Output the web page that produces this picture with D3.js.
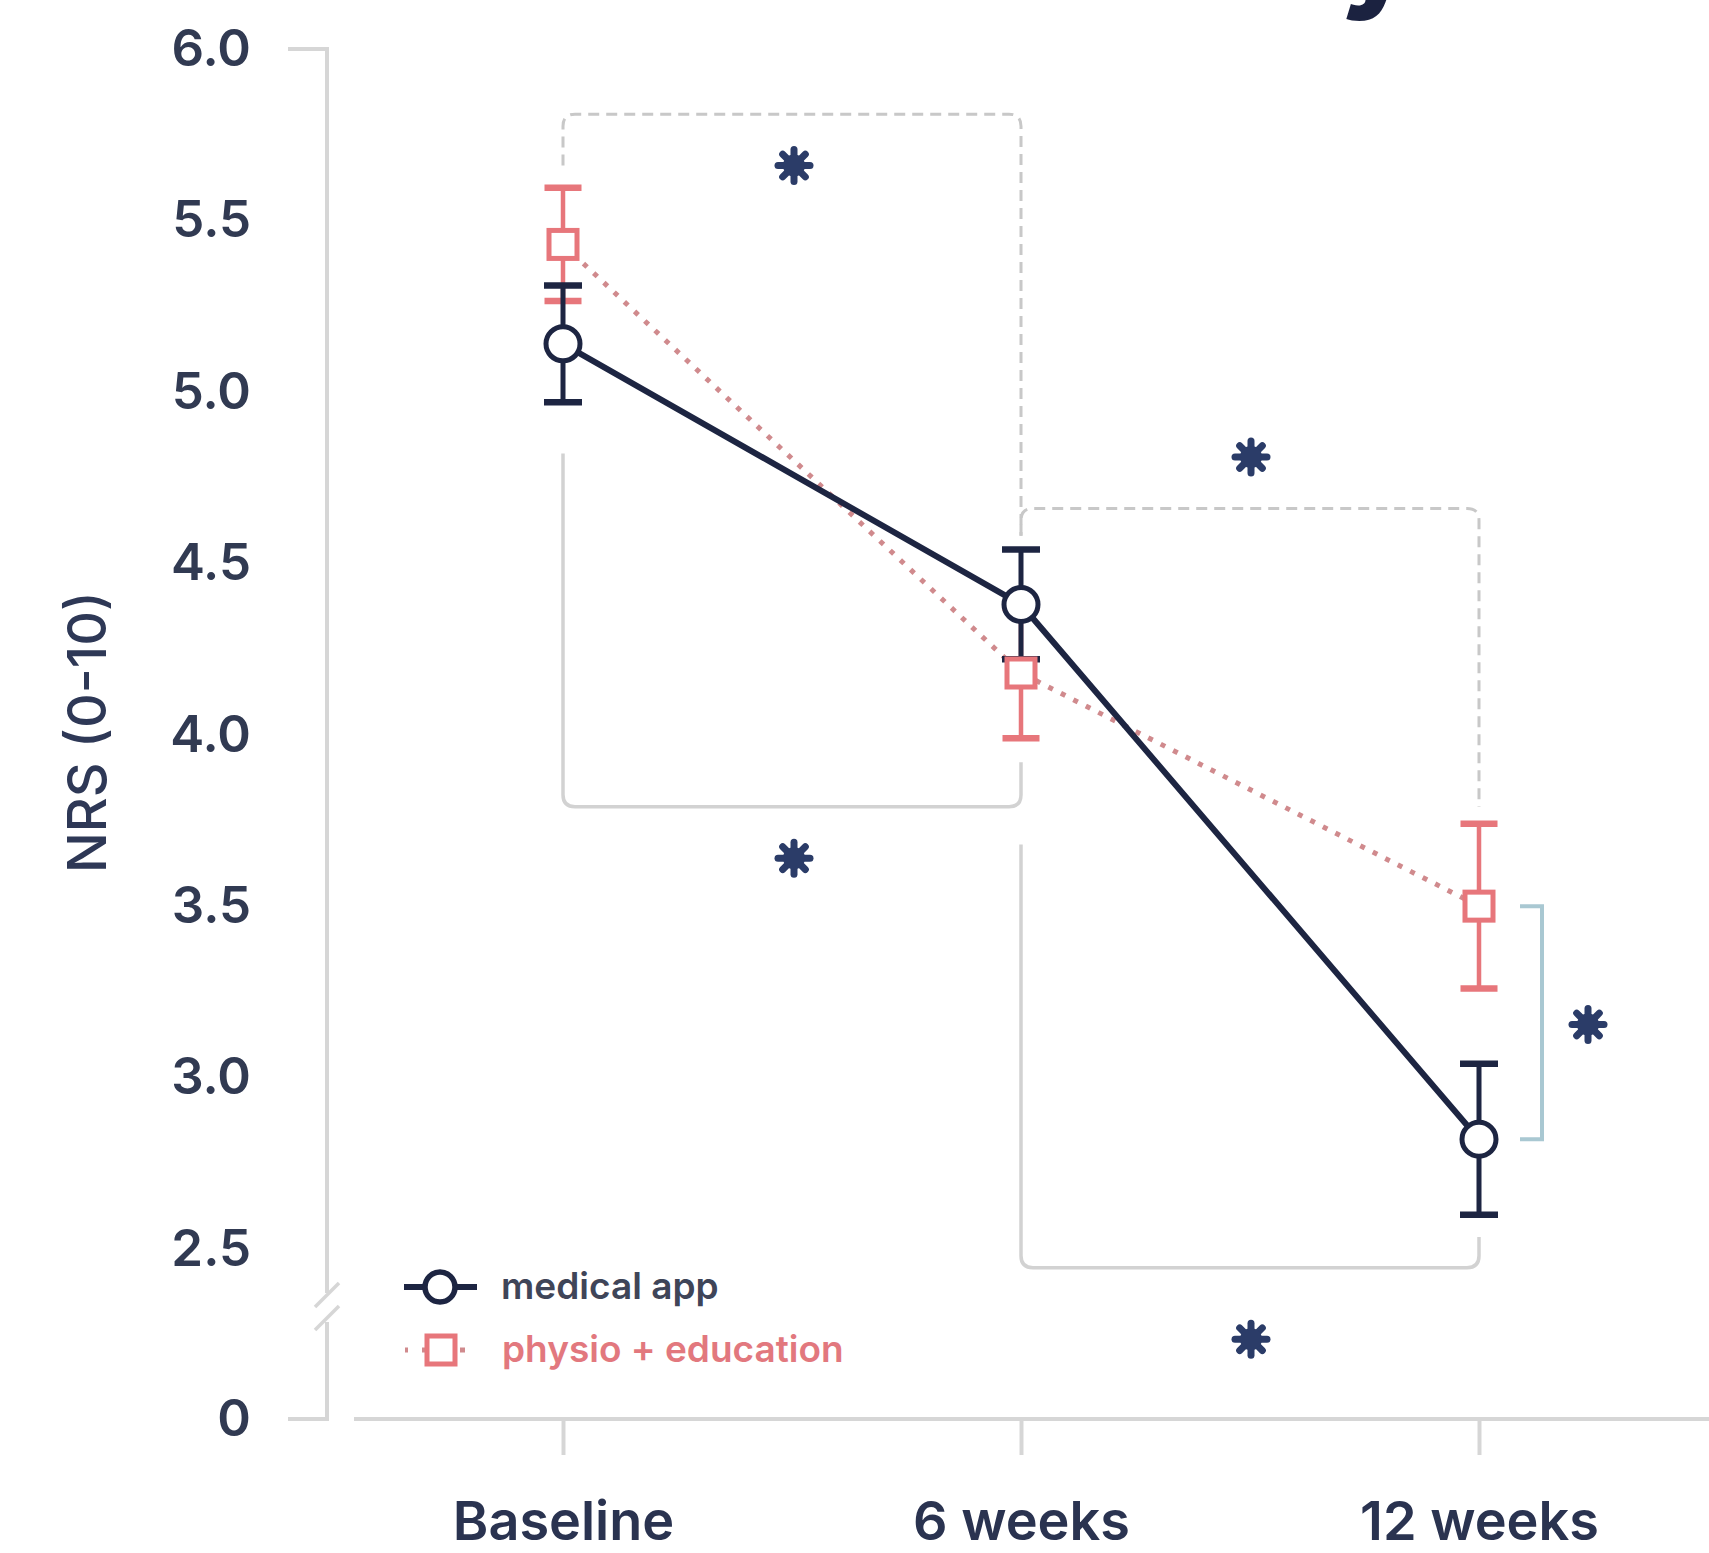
<!DOCTYPE html>
<html>
<head>
<meta charset="utf-8">
<script src="https://cdn.jsdelivr.net/npm/d3@7"></script>
<style>
  html, body { margin: 0; padding: 0; background: #ffffff; }
  svg { display: block; font-family: Inter, "Liberation Sans", Arial, sans-serif; }
</style>
</head>
<body>
<svg id="chart" width="1709" height="1553"></svg>
<script>
// ---- data ----------------------------------------------------------------
const categories = ["Baseline", "6 weeks", "12 weeks"];
const seriesNames = ["medical app", "physio + education"];

// mean NRS pain score and its error (± half-width) per time point
const appMean    = [5.14, 4.38, 2.82];
const appErr     = [0.17, 0.16, 0.22];
const physioMean = [5.43, 4.18, 3.50];
const physioErr  = [0.165, 0.19, 0.24];

const yTickValues = [0, 2.5, 3.0, 3.5, 4.0, 4.5, 5.0, 5.5, 6.0];
const yTickLabels = ["0", "2.5", "3.0", "3.5", "4.0", "4.5", "5.0", "5.5", "6.0"];
const yTitle = "NRS (0-10)";
const titleText = "Pain intensity";
const sigMark = "*";

// ---- layout --------------------------------------------------------------
const W = 1709, H = 1553;
const svg = d3.select("#chart");
const NAVY = "#1d2542", RED = "#e7767b", DOTS = "#d08a8d";
const GREY = "#d2d2d2", TEAL = "#a9c8d2", STAR = "#2b3c68";

const x = d3.scalePoint().domain(categories).range([563, 1479]);
// data scale (upper, unbroken part of the axis)
const y = d3.scaleLinear().domain([2.5, 6]).range([1249, 49]);
// axis scale with the 0–2.5 stretch compressed below the break
const yAxisScale = d3.scaleLinear().domain([0, 2.5, 6]).range([1419, 1249, 49]);

const axisX = 327, axisY = 1419;

// heading, sitting above the top edge (only its descender reaches in)
svg.append("text")
  .attr("x", 1414).attr("y", -4)
  .attr("text-anchor", "end")
  .attr("font-size", 120).attr("font-weight", 800)
  .attr("fill", "#1b2240")
  .text(titleText);

// ---- y axis ---------------------------------------------------------------
const yAxisG = svg.append("g").attr("transform", `translate(${axisX},0)`)
  .call(d3.axisLeft(yAxisScale)
    .tickValues(yTickValues)
    .tickSize(0)
    .tickPadding(76)
    .tickFormat((d, i) => yTickLabels[i]));
yAxisG.select(".domain").remove();
yAxisG.selectAll("text")
  .attr("font-size", 51).attr("font-weight", 600)
  .attr("fill", "#313a52")
  .attr("font-family", "Inter, 'Liberation Sans', sans-serif");

const axisStyle = g => g.attr("stroke", "#d6d6d6").attr("stroke-width", 4).attr("fill", "none");
const breakTop = 1293, breakBot = 1322;
// top tick + upper axis segment
svg.append("path").call(axisStyle)
  .attr("d", `M${axisX - 39},${yAxisScale(6)}H${axisX}V${breakTop}`);
// lower segment + zero tick
svg.append("path").call(axisStyle)
  .attr("d", `M${axisX},${breakBot}V${axisY}H${axisX - 39}`);
// break marks
[breakTop + 2, breakBot - 4].forEach(cy => {
  svg.append("line").call(axisStyle)
    .attr("stroke-width", 3.5)
    .attr("x1", axisX - 12).attr("y1", cy + 12)
    .attr("x2", axisX + 12).attr("y2", cy - 12);
});

// y title
svg.append("text")
  .attr("transform", `translate(106,732) rotate(-90)`)
  .attr("text-anchor", "middle")
  .attr("font-size", 54).attr("font-weight", 500)
  .attr("fill", "#2e3856")
  .text(yTitle);

// ---- x axis ---------------------------------------------------------------
const xAxisG = svg.append("g").attr("transform", `translate(0,${axisY})`)
  .call(d3.axisBottom(x).tickSize(36).tickPadding(0));
xAxisG.select(".domain").remove();
xAxisG.selectAll(".tick line").attr("stroke", "#d6d6d6").attr("stroke-width", 4);
xAxisG.selectAll("text")
  .attr("y", 121).attr("dy", 0)
  .attr("font-size", 54).attr("font-weight", 600)
  .attr("fill", "#2a3350")
  .attr("font-family", "Inter, 'Liberation Sans', sans-serif");
svg.append("line").call(axisStyle)
  .attr("x1", 354).attr("x2", W).attr("y1", axisY).attr("y2", axisY);

// ---- significance brackets -------------------------------------------------
function bracket(x1, x2, level, leg1, leg2, r) {
  const p = d3.path();
  const yl = y(level), y1 = y(leg1), y2 = y(leg2);
  const down1 = y1 > yl ? 1 : -1, down2 = y2 > yl ? 1 : -1;
  p.moveTo(x1, y1);
  p.lineTo(x1, yl + down1 * r);
  p.quadraticCurveTo(x1, yl, x1 + r, yl);
  p.lineTo(x2 - r, yl);
  p.quadraticCurveTo(x2, yl, x2, yl + down2 * r);
  p.lineTo(x2, y2);
  return p.toString();
}
const bx = categories.map(c => x(c));
const brackets = [
  { a: 0, b: 1, level: 5.81, leg1: 5.66, leg2: 4.58, dashed: true },
  { a: 1, b: 2, level: 4.66, leg1: 4.58, leg2: 3.79, dashed: true },
  { a: 0, b: 1, level: 3.79, leg1: 4.82, leg2: 3.92, dashed: false },
  { a: 1, b: 2, level: 2.445, leg1: 3.68, leg2: 2.535, dashed: false }
];
brackets.forEach(d => {
  svg.append("path")
    .attr("d", bracket(bx[d.a], bx[d.b], d.level, d.leg1, d.leg2, 12))
    .attr("fill", "none")
    .attr("stroke", d.dashed ? "#c8c8c8" : GREY)
    .attr("stroke-width", d.dashed ? 3 : 3.5)
    .attr("stroke-dasharray", d.dashed ? "11 7" : null);
});
// between-group bracket at 12 weeks
const tb = bx[2] + 63;
svg.append("path")
  .attr("d", `M${tb - 22},${y(physioMean[2])}H${tb}V${y(appMean[2])}H${tb - 22}`)
  .attr("fill", "none").attr("stroke", TEAL).attr("stroke-width", 4);

// asterisks
function asterisk(cx, cy) {
  const g = svg.append("g").attr("transform", `translate(${cx},${cy})`);
  d3.range(4).forEach(i => {
    g.append("line")
      .attr("x1", 0).attr("y1", -16).attr("x2", 0).attr("y2", 16)
      .attr("transform", `rotate(${i * 45})`)
      .attr("stroke", STAR).attr("stroke-width", 7).attr("stroke-linecap", "round");
  });
  g.append("circle").attr("r", 11).attr("fill", STAR);
  g.append("title").text(sigMark);
}
const mid01 = (bx[0] + bx[1]) / 2, mid12 = (bx[1] + bx[2]) / 2;
asterisk(mid01 + 2, y(5.66));
asterisk(mid01 + 2, y(3.64));
asterisk(mid12 + 1, y(4.81));
asterisk(mid12 + 1, y(2.237));
asterisk(tb + 46, y(3.155));

// ---- series lines ------------------------------------------------------------
const line = d3.line().x((d, i) => x(categories[i])).y(d => y(d));
svg.append("path").datum(physioMean)
  .attr("d", line).attr("fill", "none")
  .attr("stroke", DOTS).attr("stroke-width", 5)
  .attr("stroke-dasharray", "5 9").attr("stroke-linecap", "butt");
svg.append("path").datum(appMean)
  .attr("d", line).attr("fill", "none")
  .attr("stroke", NAVY).attr("stroke-width", 6);

// ---- error bars -----------------------------------------------------------------
function errorBars(means, errs, color, w, capW) {
  const g = svg.append("g").attr("stroke", color).attr("fill", "none");
  means.forEach((m, i) => {
    const cx = x(categories[i]);
    g.append("line").attr("x1", cx).attr("x2", cx)
      .attr("y1", y(m - errs[i])).attr("y2", y(m + errs[i]))
      .attr("stroke-width", w);
    [m - errs[i], m + errs[i]].forEach(v => {
      g.append("line").attr("x1", cx - capW / 2).attr("x2", cx + capW / 2)
        .attr("y1", y(v)).attr("y2", y(v)).attr("stroke-width", 6.5);
    });
  });
}
errorBars(physioMean, physioErr, RED, 4.5, 37);
errorBars(appMean, appErr, NAVY, 5, 38);

// ---- markers ---------------------------------------------------------------------
svg.append("g").selectAll("rect").data(physioMean).join("rect")
  .attr("x", (d, i) => x(categories[i]) - 14)
  .attr("y", d => y(d) - 14)
  .attr("width", 28).attr("height", 28)
  .attr("fill", "#ffffff").attr("stroke", RED).attr("stroke-width", 5);
svg.append("g").selectAll("circle").data(appMean).join("circle")
  .attr("cx", (d, i) => x(categories[i]))
  .attr("cy", d => y(d))
  .attr("r", 17)
  .attr("fill", "#ffffff").attr("stroke", NAVY).attr("stroke-width", 5);

// ---- legend ------------------------------------------------------------------------
const lg = svg.append("g").attr("transform", "translate(440,1287)");
lg.append("line").attr("x1", -36).attr("x2", 37).attr("y1", 0).attr("y2", 0)
  .attr("stroke", NAVY).attr("stroke-width", 6);
lg.append("circle").attr("r", 15).attr("fill", "#fff")
  .attr("stroke", NAVY).attr("stroke-width", 5.5);
lg.append("text").attr("x", 61).attr("y", 12)
  .attr("font-size", 37).attr("font-weight", 600).attr("fill", "#3f4558")
  .text(seriesNames[0]);

const lg2 = svg.append("g").attr("transform", "translate(441,1350)");
lg2.append("line").attr("x1", -36).attr("x2", 36).attr("y1", 0).attr("y2", 0)
  .attr("stroke", DOTS).attr("stroke-width", 5).attr("stroke-dasharray", "5 14")
  .attr("stroke-dashoffset", 2);
lg2.append("rect").attr("x", -14).attr("y", -14).attr("width", 28).attr("height", 28)
  .attr("fill", "#fff").attr("stroke", RED).attr("stroke-width", 5);
lg2.append("text").attr("x", 61).attr("y", 12)
  .attr("font-size", 37).attr("font-weight", 600).attr("fill", "#e2787e")
  .text(seriesNames[1]);
</script>
</body>
</html>
